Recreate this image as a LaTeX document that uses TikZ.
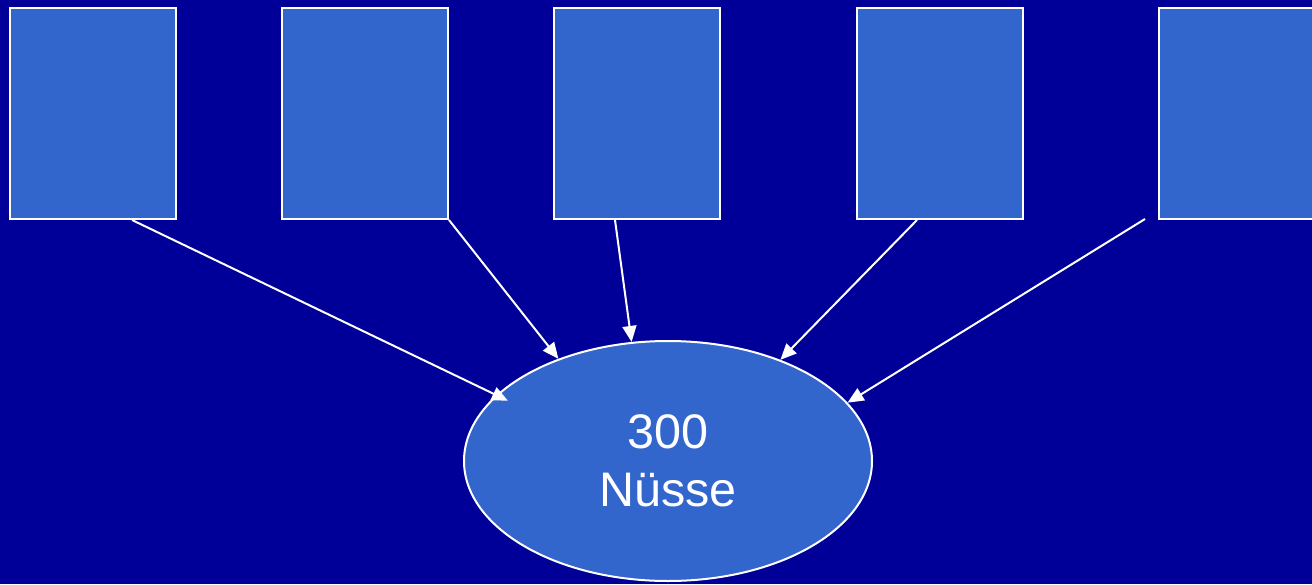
\documentclass[tikz,border=0pt]{standalone}
\usepackage{fontspec}
\setmainfont{Liberation Sans}
\usetikzlibrary{shapes.geometric,arrows.meta}
\definecolor{bgblue}{HTML}{000099}
\definecolor{boxblue}{HTML}{3366CC}
\tikzset{
  box/.style={draw=white, line width=2pt, fill=boxblue, minimum width=166pt, minimum height=211pt, inner sep=0pt},
  nut/.style={ellipse, draw=white, line width=2pt, fill=boxblue, minimum width=408pt, minimum height=240pt, inner sep=0pt, text=white, align=center, font=\fontsize{48.5}{58}\selectfont},
  arr/.style={draw=white, line width=2pt, -{Triangle[length=16pt,width=14pt]}}
}
\begin{document}
\begin{tikzpicture}[x=1pt,y=-1pt]
\useasboundingbox (0,0) rectangle (1312,584);
\clip (0,0) rectangle (1312,584);
\fill[bgblue] (0,0) rectangle (1312,584);
\node[box] (b1) at (93,113.5) {};
\node[box] (b2) at (365,113.5) {};
\node[box] (b3) at (637,113.5) {};
\node[box] (b4) at (940,113.5) {};
\node[box] (b5) at (1242,113.5) {};
\node[nut] (e) at (668,461) {300\\Nüsse};
\coordinate (c5) at (1145,219);
\draw[arr, shorten >=-13pt] ([xshift=39pt]b1.south) -- (e.159.4);
\draw[arr] (b2.south east) -- (e.137.1);
\draw[arr] ([xshift=-22pt]b3.south) -- (e.107.4);
\draw[arr] ([xshift=-23pt]b4.south) -- (e.42.7);
\draw[arr] (c5) -- (e.18.7);
\end{tikzpicture}
\end{document}
